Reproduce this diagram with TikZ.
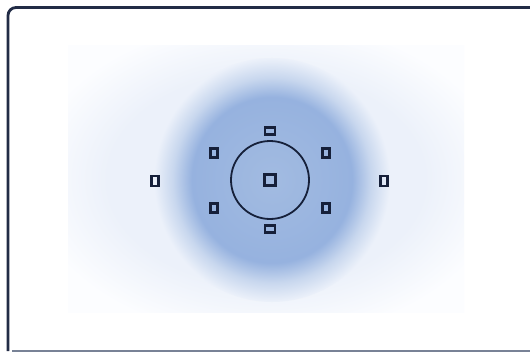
\documentclass[tikz,border=0pt]{standalone}
\usepackage{xcolor}
\usepackage{tikz}

\definecolor{framecol}{RGB}{34,44,70}
\definecolor{basecol}{RGB}{120,130,150}
\definecolor{afcol}{RGB}{22,32,58}
\definecolor{blobmid}{RGB}{162,187,225}
\definecolor{blobrim}{RGB}{150,178,223}
\definecolor{blobfade}{RGB}{200,215,238}
\definecolor{haze}{RGB}{236,241,250}
\definecolor{hazeout}{RGB}{252,253,255}

\pgfdeclareradialshading{blob}{\pgfpoint{0bp}{0bp}}{%
  color(0bp)=(blobmid); color(17bp)=(blobrim); color(21bp)=(blobfade);
  color(25bp)=(haze); color(50bp)=(haze)}
\pgfdeclareradialshading{hazeshade}{\pgfpoint{0bp}{0bp}}{%
  color(0bp)=(haze); color(20bp)=(haze); color(30bp)=(hazeout);
  color(50bp)=(hazeout)}

\begin{document}
\begin{tikzpicture}[
  x=1pt,y=-1pt,
  afpt/.style={draw=afcol,line width=2.4pt,inner sep=0pt,
               minimum width=7pt,minimum height=9pt},
  afwide/.style={afpt,minimum width=10pt,minimum height=7pt},
  aftall/.style={afpt,minimum width=7pt,minimum height=10pt},
  afctr/.style={afpt,minimum width=11pt,minimum height=11pt},
  spot/.style={circle,draw=afcol,line width=1.8pt,minimum size=78pt,inner sep=0pt}
]
\useasboundingbox (0,0) rectangle (530,353);
\fill[white] (0,0) rectangle (530,353);

% background glow
\shade[shading=hazeshade] (68,46) rectangle (464,312);
\shade[shading=blob] (272,180) ellipse (118 and 122);

% frame
\begin{scope}
  \clip (0,0) rectangle (530,353);
  \draw[basecol,line width=1.2pt] (12,351) -- (600,351);
  \draw[framecol,line width=2.8pt,rounded corners=8pt] (600,7.5) -- (8,7.5) -- (8,351);
\end{scope}

% metering circle and AF points
\node[spot] (spot) at (270,180) {};
\node[afctr] (pc) at (270,180) {};
\node[afwide] (pt) at (270,131) {};
\node[afwide] (pb) at (270,229) {};
\node[afpt] (ptl) at (214,153) {};
\node[afpt] (ptr) at (326,153) {};
\node[afpt] (pbl) at (214,208) {};
\node[afpt] (pbr) at (326,208) {};
\node[aftall] (pl) at (155,181) {};
\node[aftall] (pr) at (384,181) {};
\end{tikzpicture}
\end{document}
